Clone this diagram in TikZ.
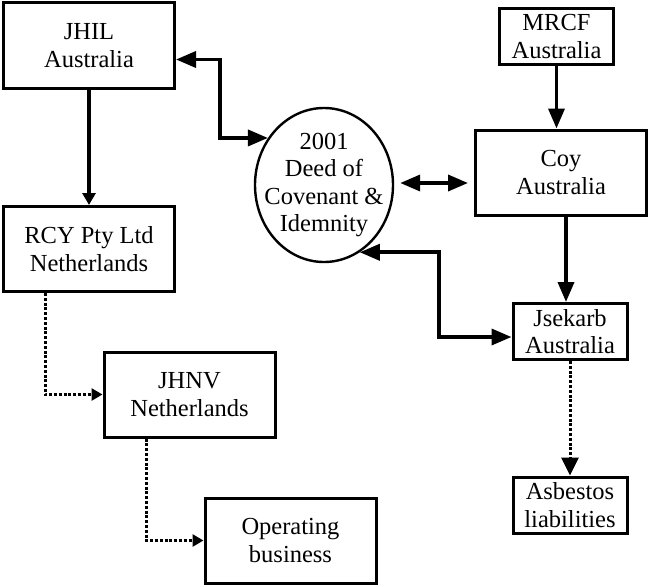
\documentclass[tikz,border=0pt]{standalone}
\usepackage{fontspec}
\setmainfont{Liberation Serif}
\usepackage{tikz}
\usetikzlibrary{arrows.meta,positioning,shapes.geometric}

\begin{document}
\begin{tikzpicture}[x=1pt,y=-1pt]
    \tikzset{block/.style= {draw, rectangle
    , line width=3pt
    , minimum width=171pt
    , minimum height=85pt
    , align=center
    , font=\fontsize{24.5}{27.5}\selectfont
      }
    , sblock/.style= {block
    , minimum width=114pt
    , minimum height=56pt
      }
    , link/.style= {line width=3.6pt, -{Triangle[length=20pt,width=16pt]}}
    , dlink/.style= {line width=3.6pt, {Triangle[length=20pt,width=16pt]}-{Triangle[length=20pt,width=16pt]}}
    , dots/.style= {line width=3pt, dash pattern=on 3pt off 1.8pt}
    }
\useasboundingbox (0,0) rectangle (650,586);

\node [block] (jhil) at (89,45.5) {JHIL\\Australia};
\node [block] (rcy) at (89,249) {RCY Pty Ltd\\Netherlands};
\node [block] (jhnv) at (189.5,394.5) {JHNV\\Netherlands};
\node [block] (oper) at (290.5,540.5) {Operating\\business};
\node [sblock] (mrcf) at (556.5,36.5) {MRCF\\Australia};
\node [block] (coy) at (561,172.5) {Coy\\Australia};
\node [sblock] (jsek) at (570,331.5) {Jsekarb\\Australia};
\node [sblock] (asb) at (570,505) {Asbestos\\liabilities};
\node [draw, ellipse, line width=2.4pt, minimum width=138pt, minimum height=154pt] (deed) at (324,185) {};
\node [align=center, font=\fontsize{24.5}{27.5}\selectfont] (deedtext) at (deed) {2001\\Deed of\\Covenant \&\\Idemnity};

 \draw[line width=3.2pt, -{Triangle[length=12pt,width=13pt]}] (jhil) -- (rcy);
 \draw[dlink] ([yshift=-14pt]jhil.east) -- ++(44,0) |- (deed.140);
 \draw[dlink, shorten <=6pt, shorten >=6pt] ([yshift=2pt]deed.east) -- ([yshift=2pt]deed.east -| coy.west);
 \draw[link] (mrcf.south) -- (mrcf.south |- coy.north);
 \draw[link] ([xshift=5pt]coy.south) -- ([xshift=5pt]coy.south |- jsek.north);
 \draw[dlink] (deed.-62) -- ++(79,0) |- ([yshift=-5.5pt]jsek.west);
 \draw[dots, -{Triangle[length=18pt,width=17pt]}] (jsek) -- (asb);
 \draw[dots, -{Triangle[length=11pt,width=12pt]}] ([xshift=-44pt]rcy.south) |- (jhnv.west);
 \draw[dots, -{Triangle[length=11pt,width=12pt]}] ([xshift=-43pt]jhnv.south) |- (oper.west);
\end{tikzpicture}
\end{document}
